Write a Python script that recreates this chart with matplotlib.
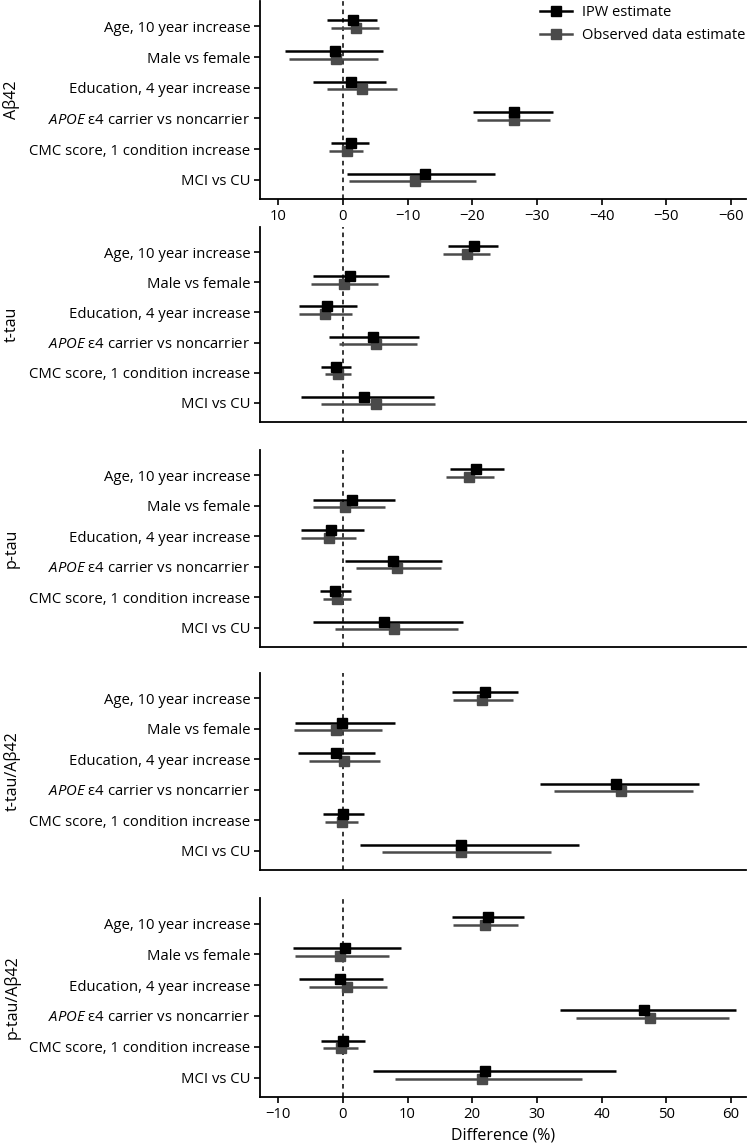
import matplotlib
matplotlib.use("Agg")
import matplotlib.pyplot as plt
from matplotlib.lines import Line2D

plt.rcParams['font.family'] = ['Open Sans', 'DejaVu Sans']
plt.rcParams['mathtext.fontset'] = 'custom'
plt.rcParams['mathtext.rm'] = 'Open Sans'
plt.rcParams['mathtext.it'] = 'Open Sans:italic'

categories = ["Age, 10 year increase", "Male vs female", "Education, 4 year increase",
              "$\\mathit{APOE}$ ε4 carrier vs noncarrier", "CMC score, 1 condition increase",
              "MCI vs CU"]
panel_names = ["Aβ42", "t-tau", "p-tau", "t-tau/Aβ42", "p-tau/Aβ42"]

# Aβ42
abeta_ipw_est = [-1.5, 1.2, -1.3, -26.5, -1.3, -12.7]
abeta_ipw_lo = [-5.3, -6.2, -6.7, -32.5, -4.1, -23.5]
abeta_ipw_hi = [2.5, 9.0, 4.6, -20.1, 1.8, -0.7]
abeta_obs_est = [-2.1, 1.1, -3.0, -26.4, -0.7, -11.2]
abeta_obs_lo = [-5.6, -5.5, -8.3, -32.0, -3.1, -20.6]
abeta_obs_hi = [1.8, 8.3, 2.4, -20.7, 2.1, -1.0]

# t-tau
ttau_ipw_est = [20.3, 1.1, -2.4, 4.7, -1.0, 3.3]
ttau_ipw_lo = [16.3, -4.6, -6.7, -2.1, -3.3, -6.5]
ttau_ipw_hi = [24.0, 7.2, 2.2, 11.7, 1.3, 14.1]
ttau_obs_est = [19.2, 0.2, -2.8, 5.2, -0.7, 5.1]
ttau_obs_lo = [15.5, -4.9, -6.7, -0.6, -2.7, -3.4]
ttau_obs_hi = [22.8, 5.5, 1.4, 11.4, 1.3, 14.2]

# p-tau
ptau_ipw_est = [20.6, 1.4, -1.8, 7.7, -1.2, 6.3]
ptau_ipw_lo = [16.6, -4.6, -6.5, 0.4, -3.6, -4.6]
ptau_ipw_hi = [24.9, 8.0, 3.3, 15.3, 1.3, 18.5]
ptau_obs_est = [19.5, 0.4, -2.2, 8.4, -0.9, 7.9]
ptau_obs_lo = [16.0, -4.6, -6.5, 2.1, -3.0, -1.2]
ptau_obs_hi = [23.3, 6.5, 2.1, 15.1, 1.3, 17.8]

# t-tau/Aβ42
tratio_ipw_est = [21.9, -0.15, -1.1, 42.2, 0.1, 18.3]
tratio_ipw_lo = [16.9, -7.4, -7.0, 30.5, -3.0, 2.7]
tratio_ipw_hi = [27.1, 8.0, 5.0, 55.0, 3.3, 36.5]
tratio_obs_est = [21.5, -1.0, 0.2, 43.0, -0.15, 18.3]
tratio_obs_lo = [17.1, -7.5, -5.2, 32.7, -2.8, 6.0]
tratio_obs_hi = [26.3, 6.1, 5.8, 54.1, 2.4, 32.1]

# p-tau/Aβ42
pratio_ipw_est = [22.5, 0.3, -0.5, 46.5, 0.0, 21.9]
pratio_ipw_lo = [16.9, -7.7, -6.8, 33.5, -3.4, 4.7]
pratio_ipw_hi = [28.0, 9.0, 6.2, 60.7, 3.4, 42.2]
pratio_obs_est = [22.0, -0.4, 0.7, 47.4, -0.3, 21.5]
pratio_obs_lo = [17.1, -7.4, -5.2, 36.1, -3.1, 8.1]
pratio_obs_hi = [27.1, 7.1, 6.8, 59.7, 2.4, 36.9]

panels = [
    (abeta_ipw_est, abeta_ipw_lo, abeta_ipw_hi, abeta_obs_est, abeta_obs_lo, abeta_obs_hi),
    (ttau_ipw_est, ttau_ipw_lo, ttau_ipw_hi, ttau_obs_est, ttau_obs_lo, ttau_obs_hi),
    (ptau_ipw_est, ptau_ipw_lo, ptau_ipw_hi, ptau_obs_est, ptau_obs_lo, ptau_obs_hi),
    (tratio_ipw_est, tratio_ipw_lo, tratio_ipw_hi, tratio_obs_est, tratio_obs_lo, tratio_obs_hi),
    (pratio_ipw_est, pratio_ipw_lo, pratio_ipw_hi, pratio_obs_est, pratio_obs_lo, pratio_obs_hi),
]

W, H = 750, 1146
fig = plt.figure(figsize=(W / 100, H / 100), dpi=100)

# (top_px, bottom_px) of each panel
panel_px = [(1, 199), (227, 422), (450, 647), (673, 870), (898, 1097)]
left_px, right_px = 260, 746

ipw_color = "#000000"
obs_color = "#4a4a4a"
ypos = list(range(1, 7))
ipw_off = -0.2
obs_off = 0.05

for i, (name, data) in enumerate(zip(panel_names, panels)):
    top, bot = panel_px[i]
    ax = fig.add_axes([left_px / W, 1 - bot / H, (right_px - left_px) / W, (bot - top) / H])
    ie, il, ih, oe, ol, oh = data
    yi = [y + ipw_off for y in ypos]
    yo = [y + obs_off for y in ypos]
    ax.axvline(0, color="black", lw=1.1, ls=(0, (3, 2.5)), zorder=1)
    ax.hlines(yo, ol, oh, color=obs_color, lw=1.8, zorder=2)
    ax.plot(oe, yo, ls="none", marker="s", ms=7.5, color=obs_color, zorder=3)
    ax.hlines(yi, il, ih, color=ipw_color, lw=1.8, zorder=4)
    ax.plot(ie, yi, ls="none", marker="s", ms=7.5, color=ipw_color, zorder=5)

    ax.set_ylim(6.63, 0.17)
    ax.set_yticks(ypos)
    ax.set_yticklabels(categories, fontsize=10.7)
    ax.set_ylabel(name, fontsize=11.5, va="center")
    ax.yaxis.set_label_coords((12 - left_px) / (right_px - left_px), 0.5)
    for s in ["top", "right"]:
        ax.spines[s].set_visible(False)
    for s in ["left", "bottom"]:
        ax.spines[s].set_linewidth(1.3)
    ax.tick_params(axis="y", length=4, width=1.2, pad=3)
    ax.tick_params(axis="x", length=4, width=1.2, labelsize=10.7, pad=3)

    if i == 0:
        ax.set_xlim(12.8, -62.3)
        ax.set_xticks([10, 0, -10, -20, -30, -40, -50, -60])
        ax.set_xticklabels(["10", "0", "−10", "−20", "−30", "−40", "−50", "−60"])
        handles = [Line2D([], [], color=ipw_color, lw=1.8, marker="s", ms=7.5),
                   Line2D([], [], color=obs_color, lw=1.8, marker="s", ms=7.5)]
        ax.legend(handles, ["IPW estimate", "Observed data estimate"], loc="upper right",
                  bbox_to_anchor=(1.022, 1.04), frameon=False, fontsize=10.5,
                  handlelength=2.2, handletextpad=0.65, labelspacing=0.6, borderpad=0.3)
    else:
        ax.set_xlim(-12.8, 62.3)
        if i == 4:
            ax.set_xticks([-10, 0, 10, 20, 30, 40, 50, 60])
            ax.set_xticklabels(["−10", "0", "10", "20", "30", "40", "50", "60"])
            ax.set_xlabel("Difference (%)", fontsize=11.5, labelpad=4)
        else:
            ax.set_xticks([])

fig.savefig("out.png", dpi=100)
